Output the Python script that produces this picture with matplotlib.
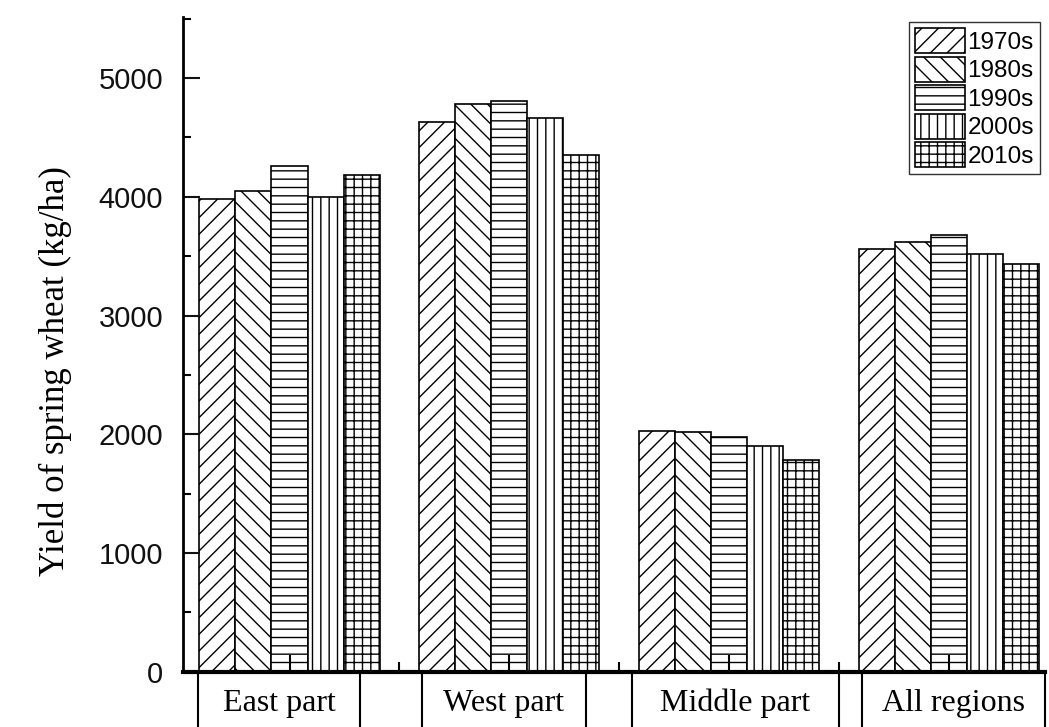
import matplotlib.pyplot as plt
import numpy as np
from matplotlib.ticker import MultipleLocator
from matplotlib.lines import Line2D

# Spring wheat yield (kg/ha) by region and decade
regions = ["East part", "West part", "Middle part", "All regions"]
decades = ["1970s", "1980s", "1990s", "2000s", "2010s"]
yield_1970s = [3980, 4630, 2030, 3560]
yield_1980s = [4050, 4780, 2020, 3620]
yield_1990s = [4260, 4810, 1980, 3680]
yield_2000s = [4000, 4660, 1900, 3520]
yield_2010s = [4180, 4350, 1780, 3430]
series = [yield_1970s, yield_1980s, yield_1990s, yield_2000s, yield_2010s]
hatches = ["//", "\\\\", "--", "||", "++"]

plt.rcParams["hatch.linewidth"] = 1.0
plt.rcParams["font.family"] = "Liberation Sans"

fig = plt.figure(figsize=(10.49, 7.27), dpi=100)
ax = fig.add_axes([0.174, 0.076, 0.822, 0.9])

group_gap = 6.1
centers = np.arange(len(regions)) * group_gap
for i, (vals, h) in enumerate(zip(series, hatches)):
    ax.bar(centers + (i - 2), vals, width=1.0, color="white", edgecolor="black",
           linewidth=1.2, hatch=h, label=decades[i])

ax.set_xlim(-2.97, 20.97)
ax.set_ylim(0, 5510)
ax.yaxis.set_major_locator(MultipleLocator(1000))
ax.yaxis.set_minor_locator(MultipleLocator(500))
ax.set_xticks(centers)
ax.set_xticks(centers[:-1] + group_gap / 2, minor=True)
ax.set_xticklabels([])
ax.tick_params(axis="y", which="major", direction="in", length=12, width=1.5,
               labelsize=21, pad=14, colors="#111111")
ax.tick_params(axis="y", which="minor", direction="in", length=6, width=1.5)
ax.tick_params(axis="x", which="major", direction="in", length=12, width=1.5)
ax.tick_params(axis="x", which="minor", direction="in", length=7, width=1.5)

ax.spines["top"].set_visible(False)
ax.spines["right"].set_visible(False)
ax.spines["left"].set_linewidth(2)
ax.spines["bottom"].set_linewidth(3)

ax.set_ylabel("Yield of spring wheat (kg/ha)", family="Liberation Serif",
              fontsize=25)
ax.yaxis.set_label_coords(-0.128, 0.46)

# table-like boxes with the region names under the axis
box_edges = [(-2.53, 1.97), (3.69, 8.22), (9.5, 15.25), (15.9, 20.97)]
trans = ax.get_xaxis_transform()
for name, (x0, x1) in zip(regions, box_edges):
    for x in (x0, x1):
        ax.add_line(Line2D([x, x], [0, -0.09], transform=trans, color="black",
                           linewidth=1.5, clip_on=False))
    ax.text((x0 + x1) / 2, -0.048, name, transform=trans, ha="center",
            va="center", family="Liberation Serif", fontsize=23)

leg = ax.legend(loc="upper right", bbox_to_anchor=(1040 / 1049, 1 - 22 / 727),
                bbox_transform=fig.transFigure, borderaxespad=0, fontsize=17.5,
                fancybox=False, edgecolor="black", handlelength=2.05,
                handleheight=1.2, handletextpad=0.1, labelspacing=0.12,
                borderpad=0.25)
leg.get_frame().set_linewidth(1.0)

fig.savefig("out.png", dpi=100)
